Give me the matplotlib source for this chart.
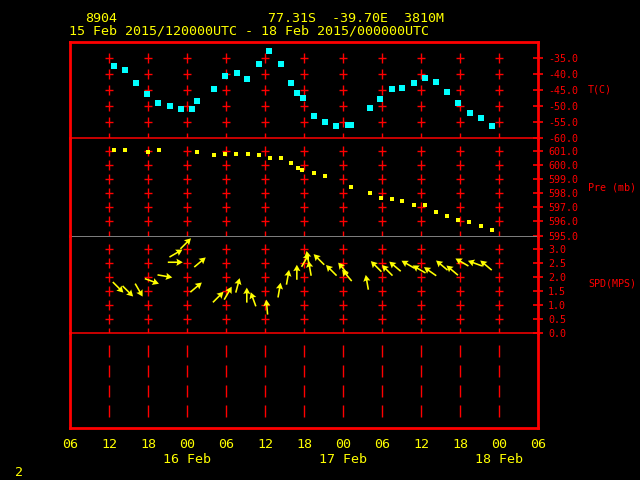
import numpy as np
import matplotlib
matplotlib.use("Agg")
import matplotlib.pyplot as plt

# times are hours since 15 Feb 2015 00UTC
t_hours = [12.8, 14.5, 16.2, 17.8, 19.5, 21.4, 23.1, 24.8, 25.5, 28.2, 29.8, 31.7,
           33.2, 35.1, 36.6, 38.5, 40.0, 40.9, 41.8, 43.5, 45.2, 46.9, 48.8, 49.2,
           52.2, 53.7, 55.5, 57.1, 58.9, 60.6, 62.3, 64.0, 65.7, 67.5, 69.2, 70.9]
temp_c = [-37.5, -38.8, -42.9, -46.2, -49.1, -49.9, -51.0, -50.9, -48.5, -44.7, -40.6, -39.6,
          -41.5, -36.9, -32.8, -36.9, -42.8, -45.8, -47.4, -53.0, -55.0, -56.3, -55.8, -55.9,
          -50.6, -47.8, -44.7, -44.4, -42.8, -41.3, -42.5, -45.6, -49.0, -52.2, -53.8, -56.3]

p_hours = [12.8, 14.5, 18.0, 19.7, 25.5, 28.2, 29.8, 31.5, 33.4, 35.1, 36.8, 38.5,
           40.0, 41.1, 41.7, 43.5, 45.2, 49.2, 52.2, 53.8, 55.5, 57.1, 58.9, 60.6,
           62.3, 64.0, 65.7, 67.4, 69.2, 70.9]
pres_mb = [601.07, 601.07, 600.93, 601.07, 600.93, 600.7, 600.8, 600.8, 600.8, 600.7, 600.5, 600.5,
           600.14, 599.8, 599.66, 599.43, 599.2, 598.43, 598.0, 597.64, 597.57, 597.43, 597.2, 597.14,
           596.64, 596.36, 596.07, 595.93, 595.64, 595.36]

w_hours = [13.4, 14.9, 16.6, 18.6, 20.6, 22.2, 22.3, 23.8, 26.0, 25.4, 28.8, 30.3, 31.8,
           33.2, 34.2, 36.3, 38.2, 39.5, 40.9, 42.2, 42.6, 42.9, 44.3, 46.2, 48.0, 48.6,
           51.7, 53.1, 54.8, 56.0, 58.0, 59.7, 61.4, 63.2, 64.8, 66.3, 68.3, 70.0]
w_speed = [1.64, 1.50, 1.54, 1.86, 2.04, 2.54, 2.86, 3.21, 2.54, 1.64, 1.29, 1.43, 1.71,
           1.36, 1.21, 0.93, 1.54, 2.00, 2.18, 2.61, 2.68, 2.32, 2.64, 2.25, 2.32, 2.07,
           1.82, 2.39, 2.25, 2.39, 2.46, 2.29, 2.21, 2.43, 2.25, 2.54, 2.50, 2.43]
w_dir = [315, 315, 330, 290, 280, 270, 240, 225, 230, 230, 225, 210, 195,
         180, 160, 175, 190, 190, 180, 210, 170, 170, 135, 135, 140, 140,
         170, 135, 135, 130, 120, 120, 125, 130, 130, 120, 110, 130]

hour_ticks = [6, 12, 18, 24, 30, 36, 42, 48, 54, 60, 66, 72, 78]
hour_labels = ["06", "12", "18", "00\n16 Feb", "06", "12", "18", "00\n17 Feb",
               "06", "12", "18", "00\n18 Feb", "06"]

RED = "#ff0000"
YEL = "#ffff00"
CYAN = "#00ffff"
W, H = 640, 480

plt.rcParams["font.family"] = "DejaVu Sans Mono"


def box(top, bot):
    return [70 / W, 1 - bot / H, 468 / W, (bot - top) / H]


fig = plt.figure(figsize=(6.4, 4.8), dpi=100, facecolor="black")
ax_t = fig.add_axes(box(42, 138))
ax_p = fig.add_axes(box(138, 235.5))
ax_s = fig.add_axes(box(235.5, 333))
ax_b = fig.add_axes(box(333, 428))
axes = [ax_t, ax_p, ax_s, ax_b]

ax_t.set_ylim(-60, -30)
ax_p.set_ylim(595, 601.93)
ax_s.set_ylim(0, 3.5)
ax_b.set_ylim(0, 95)

grid_x = np.arange(12, 73, 6)


def grid(ax, levels, crosses, half_px=5):
    lo, hi = ax.get_ylim()
    d = half_px * (hi - lo) / ax.bbox.height
    gx, gy = np.meshgrid(grid_x, levels)
    ax.vlines(gx.ravel(), gy.ravel() - d, gy.ravel() + d, color=RED, lw=1, zorder=1)
    if len(crosses):
        cx, cy = np.meshgrid(grid_x, crosses)
        ax.plot(cx.ravel(), cy.ravel(), ls="none", marker="_", ms=5.5, mew=1,
                color=RED, zorder=1)


for ax in axes:
    ax.set_facecolor("none")
    ax.set_xlim(6, 78)
    for s in ax.spines.values():
        s.set_visible(False)
    for side in ("left", "right"):
        ax.spines[side].set_visible(True)
        ax.spines[side].set_color(RED)
        ax.spines[side].set_linewidth(2)
    ax.tick_params(axis="x", bottom=False, labelbottom=False)

ax_t.spines["top"].set_visible(True)
ax_t.spines["top"].set_color(RED)
ax_t.spines["top"].set_linewidth(2)
ax_t.spines["bottom"].set_visible(True)
ax_t.spines["bottom"].set_color(RED)
ax_t.spines["bottom"].set_linewidth(1.1)
ax_p.spines["bottom"].set_visible(True)
ax_p.spines["bottom"].set_color("#808080")
ax_p.spines["bottom"].set_linewidth(0.7)
ax_s.spines["bottom"].set_visible(True)
ax_s.spines["bottom"].set_color(RED)
ax_s.spines["bottom"].set_linewidth(1.1)
ax_b.spines["bottom"].set_visible(True)
ax_b.spines["bottom"].set_color(RED)
ax_b.spines["bottom"].set_linewidth(2)

t_ticks = np.arange(-35, -61, -5)
p_ticks = np.arange(601, 594, -1)
s_ticks = np.arange(3.0, -0.01, -0.5)
for ax, ticks in ((ax_t, t_ticks), (ax_p, p_ticks), (ax_s, s_ticks)):
    ax.yaxis.tick_right()
    ax.set_yticks(ticks)
    ax.set_yticklabels([f"{v:.1f}" for v in ticks])
    ax.tick_params(axis="y", direction="inout", length=7, width=1.2,
                   colors=RED, labelsize=7.2, pad=3.7)
ax_b.set_yticks([])

grid(ax_t, t_ticks, t_ticks[:-1])
grid(ax_p, p_ticks, p_ticks[:-1])
grid(ax_s, s_ticks, s_ticks[:-1])
grid(ax_b, np.arange(17, 78, 20), [], half_px=6)

# data
ax_t.plot(t_hours, temp_c, ls="none", marker="s", ms=3.8, mew=0, color=CYAN, zorder=3)
ax_p.plot(p_hours, pres_mb, ls="none", marker="s", ms=3.5, mew=0, color=YEL, zorder=3)
ang = np.radians(270 - np.array(w_dir))
ax_s.quiver(w_hours, w_speed, np.cos(ang), np.sin(ang), angles="uv",
            units="dots", scale_units="dots", scale=1 / 15, width=1.6,
            headwidth=4.5, headlength=4, headaxislength=3.5, pivot="middle",
            color=YEL, zorder=3)

ax_b.set_xticks(hour_ticks)
ax_b.set_xticklabels(hour_labels)
ax_b.tick_params(axis="x", bottom=True, labelbottom=True, length=0, pad=7,
                 labelsize=9.6, labelcolor=YEL)

# labels and titles
fig.text(588 / W, 1 - 90 / H, "T(C)", color=RED, fontsize=7.2, va="center")
fig.text(588 / W, 1 - 187 / H, "Pre (mb)", color=RED, fontsize=7.2, va="center")
fig.text(588 / W, 1 - 283 / H, "SPD(MPS)", color=RED, fontsize=7.2, va="center")
fig.text(85 / W, 1 - 18.5 / H, "8904", color=YEL, fontsize=9.6, va="center")
fig.text(268 / W, 1 - 18.5 / H, "77.31S  -39.70E  3810M", color=YEL, fontsize=9.6, va="center")
fig.text(69 / W, 1 - 31.5 / H, "15 Feb 2015/120000UTC - 18 Feb 2015/000000UTC",
         color=YEL, fontsize=9.6, va="center")
fig.text(15 / W, 1 - 472 / H, "2", color=YEL, fontsize=9.6, va="center")

fig.savefig("out.png", dpi=100, facecolor="black")
